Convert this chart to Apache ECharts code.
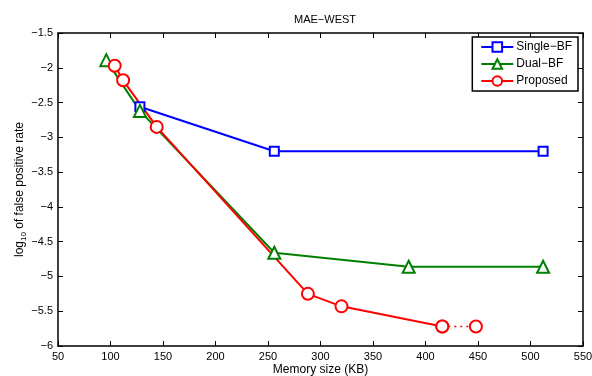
<!DOCTYPE html>
<html>
<head>
<meta charset="utf-8">
<script src="https://cdn.jsdelivr.net/npm/echarts@6/dist/echarts.min.js"></script>
<style>
  html, body { margin: 0; padding: 0; background: #fff; }
  #chart { width: 592px; height: 376px; }
</style>
</head>
<body>
<div id="chart"></div>
<script>
// memory size (KB) vs log10 of false positive rate
const singleBF = [[128, -2.56], [256, -3.2], [512, -3.2]];
const dualBF = [[96, -1.89], [128, -2.62], [256, -4.66], [384, -4.86], [512, -4.86]];
const proposed = [[104, -1.97], [112, -2.18], [144, -2.85], [288, -5.25], [320, -5.43], [416, -5.72]];
const proposedTail = [[416, -5.72], [448, -5.72]];

const FONT = 'Liberation Sans, Arial, sans-serif';
const minus = v => String(v).replace('-', '\u2212');

const chart = echarts.init(document.getElementById('chart'));

// shared bits for the four sides of the box
const tick = { show: true, inside: true, length: 5, lineStyle: { color: '#000', width: 1 } };
const line = { show: true, onZero: false, lineStyle: { color: '#000', width: 1.5 } };
const lbl = { color: '#000', fontFamily: FONT, fontSize: 11 };

chart.setOption({
  animation: false,
  title: {
    text: 'MAE\u2212WEST',
    left: 320, top: 9, textAlign: 'center',
    textStyle: { fontFamily: FONT, fontSize: 11, fontWeight: 'normal', color: '#000' }
  },
  grid: { left: 58, right: 9, top: 33, bottom: 30, outerBoundsMode: 'none', containLabel: false },
  legend: {
    orient: 'vertical',
    right: 14, top: 37,
    data: ['Single-BF', 'Dual-BF', 'Proposed'],
    formatter: n => n.replace('-', '\u2212'),
    backgroundColor: '#fff', borderColor: '#000', borderWidth: 1.5,
    padding: [4, 6, 4, 8], itemGap: 5, itemWidth: 32, itemHeight: 12,
    textStyle: { fontFamily: FONT, fontSize: 12, color: '#000', padding: [0, 0, 0, -2] }
  },
  xAxis: [{
    type: 'value', min: 50, max: 550, interval: 50,
    name: 'Memory size (KB)', nameLocation: 'middle', nameGap: 18, nameMoveOverlap: false,
    nameTextStyle: { fontFamily: FONT, fontSize: 12, color: '#000' },
    axisLine: line, axisTick: tick,
    axisLabel: Object.assign({ margin: 5, showMaxLabel: true }, lbl),
    splitLine: { show: false }
  }, {
    type: 'value', position: 'top', min: 50, max: 550, interval: 50,
    axisLine: line, axisTick: tick, axisLabel: { show: false }, splitLine: { show: false }
  }],
  yAxis: [{
    type: 'value', min: -6, max: -1.5, interval: 0.5,
    name: '{a|log}{b|10}{a| of false positive rate}',
    nameLocation: 'middle', nameGap: 30, nameMoveOverlap: false,
    nameTextStyle: {
      rich: {
        a: { fontFamily: FONT, fontSize: 12, color: '#000' },
        b: { fontFamily: FONT, fontSize: 8, color: '#000', padding: [8, 0, 0, 0] }
      }
    },
    axisLine: line, axisTick: tick,
    axisLabel: Object.assign({ margin: 5, formatter: minus }, lbl),
    splitLine: { show: false }
  }, {
    type: 'value', position: 'right', min: -6, max: -1.5, interval: 0.5,
    axisLine: line, axisTick: tick, axisLabel: { show: false }, splitLine: { show: false }
  }],
  series: [{
    name: 'Single-BF', type: 'line', data: singleBF,
    symbol: 'emptyRect', symbolSize: 9,
    color: '#0000ff', lineStyle: { width: 2 }, itemStyle: { borderWidth: 2 }
  }, {
    name: 'Dual-BF', type: 'line', data: dualBF,
    symbol: 'emptyTriangle', symbolSize: 12,
    color: '#008000', lineStyle: { width: 2 }, itemStyle: { borderWidth: 2 }
  }, {
    name: 'Proposed', type: 'line', data: proposed,
    symbol: 'emptyCircle', symbolSize: 12,
    color: '#ff0000', lineStyle: { width: 2 }, itemStyle: { borderWidth: 2 }
  }, {
    name: 'tail', type: 'line', data: proposedTail,
    symbol: 'emptyCircle', symbolSize: 12,
    color: '#ff0000', lineStyle: { width: 1.5, type: [2, 4] }, itemStyle: { borderWidth: 2 }
  }]
});
</script>
</body>
</html>
